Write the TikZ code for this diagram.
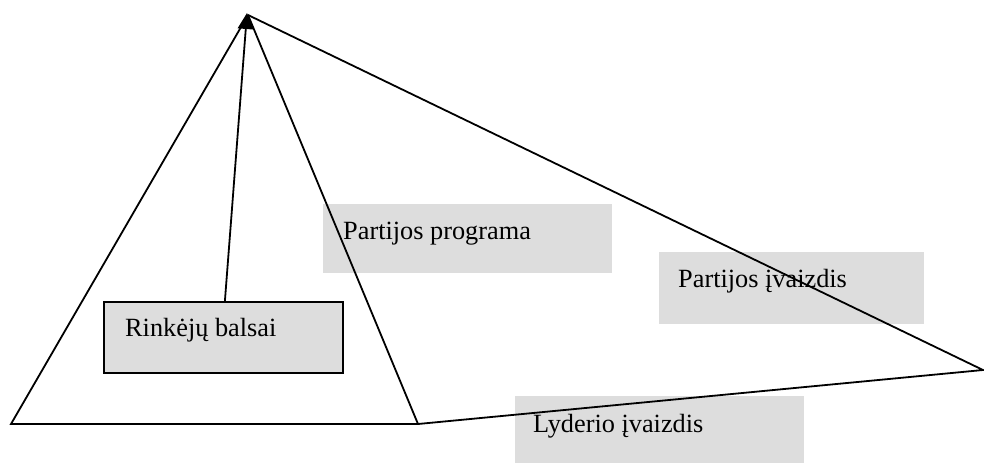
\documentclass[tikz,border=0pt]{standalone}
\usepackage{fontspec}
\setmainfont{Liberation Serif}
\usetikzlibrary{arrows.meta}
\definecolor{boxgray}{HTML}{DDDDDD}
\tikzset{
  shade box/.style={fill=boxgray, draw=none, inner sep=0pt, anchor=north west},
  framed box/.style={fill=boxgray, draw=black, line width=1.8pt, inner sep=0pt, anchor=north west},
  caption/.style={anchor=base west, inner sep=0pt, font=\fontsize{26.3}{30}\selectfont},
  edge/.style={line width=1.8pt, line join=miter},
}
\begin{document}
\begin{tikzpicture}[x=1pt, y=-1pt]
  \useasboundingbox (0,0) rectangle (984,463);

  % grey panels behind the labels
  \node[shade box, minimum width=289pt, minimum height=69pt] (progbox) at (323,204) {};
  \node[shade box, minimum width=265pt, minimum height=72pt] (imgbox)  at (659,252) {};
  \node[shade box, minimum width=289pt, minimum height=67pt] (leadbox) at (515,396) {};
  \node[framed box, minimum width=239pt, minimum height=71pt] (voters) at (103,301) {};

  % labels
  \node[caption] (progtxt)  at (343,239) {Partijos programa};
  \node[caption] (imgtxt)   at (678,287) {Partijos įvaizdis};
  \node[caption] (leadtxt)  at (533,432) {Lyderio įvaizdis};
  \node[caption] (votertxt) at (125,336) {Rinkėjų balsai};

  % corners of the two triangles
  \coordinate (apex)  at (248,15);
  \coordinate (bl)    at (11,424);
  \coordinate (br)    at (418,424);
  \coordinate (right) at (983,370);

  \draw[edge] (apex) -- (bl) -- (br) -- (apex);
  \draw[edge] (br) -- (right) -- (apex);

  % votes pointing up to the apex
  \coordinate (tip) at (247,13);
  \draw[edge, -{Triangle[width=16pt,length=16pt]}] ([xshift=1.5pt]voters.north) -- (tip);
\end{tikzpicture}
\end{document}
